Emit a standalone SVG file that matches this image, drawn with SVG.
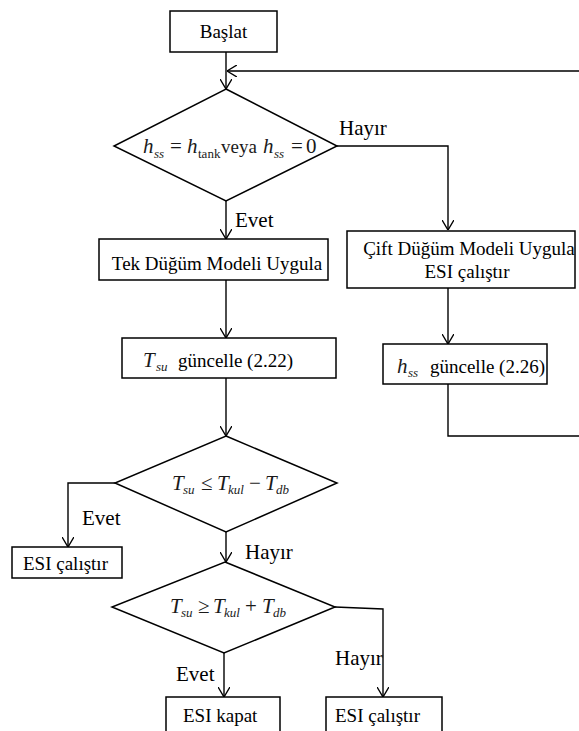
<svg xmlns="http://www.w3.org/2000/svg" width="579" height="731" viewBox="0 0 579 731" font-family="'Liberation Serif', 'Times New Roman', serif">
<defs>
<marker id="arr" viewBox="0 0 10 12" refX="10" refY="6" markerWidth="10" markerHeight="12" markerUnits="userSpaceOnUse" orient="auto">
<path d="M0,0 L10,6 L0,12" fill="none" stroke="#000" stroke-width="1.4"/>
</marker>
<style>
.box{fill:#fff;stroke:#000;stroke-width:1.5}
.dia{fill:#fff;stroke:#000;stroke-width:1.5}
.ln{fill:none;stroke:#000;stroke-width:1.4}
.t{font-size:19px;fill:#000}
.lbl{font-size:21px;fill:#000}
.m{font-size:21px;fill:#1a1a1a}
.i{font-style:italic}
.s{font-size:13px}
.v{font-size:19px}
</style>
</defs>
<rect width="579" height="731" fill="#fff"/>

<g id="connectors">
<line class="ln" x1="226" y1="52" x2="226" y2="89" marker-end="url(#arr)"/>
<path class="ln" d="M448,384 V436 H580 V71 H227" marker-end="url(#arr)"/>
<path class="ln" d="M337,146 H448 V230" marker-end="url(#arr)"/>
<line class="ln" x1="226" y1="201" x2="226" y2="239" marker-end="url(#arr)"/>
<line class="ln" x1="448" y1="288" x2="448" y2="344" marker-end="url(#arr)"/>
<line class="ln" x1="226" y1="280" x2="226" y2="338" marker-end="url(#arr)"/>
<line class="ln" x1="226" y1="378" x2="226" y2="436" marker-end="url(#arr)"/>
<path class="ln" d="M115,483 H68 V547" marker-end="url(#arr)"/>
<line class="ln" x1="226" y1="532" x2="226" y2="562" marker-end="url(#arr)"/>
<path class="ln" d="M335,607 L383,609 V697" marker-end="url(#arr)"/>
<line class="ln" x1="224" y1="653" x2="224" y2="697" marker-end="url(#arr)"/>
<text class="lbl" x="339" y="135">Hayır</text>
<text class="lbl" x="235" y="227">Evet</text>
<text class="lbl" x="82" y="525">Evet</text>
<text class="lbl" x="245" y="559">Hayır</text>
<text class="lbl" x="335" y="665">Hayır</text>
<text class="lbl" x="176" y="681">Evet</text>
</g>

<g id="baslat">
<rect class="box" x="170" y="11" width="107" height="41"/>
<text class="t" x="223.5" y="38" text-anchor="middle">Başlat</text>
</g>

<g id="karar1">
<polygon class="dia" points="226,89 337,146 226,201 114,146"/>
<text class="m"><tspan class="i" x="143" y="153">h</tspan><tspan class="i s" x="154" y="158">ss</tspan><tspan x="170" y="153">=</tspan><tspan class="i" x="187" y="153">h</tspan><tspan class="s" x="198" y="158">tank</tspan><tspan class="v" x="221" y="153">veya</tspan><tspan class="i" x="263" y="153">h</tspan><tspan class="i s" x="274" y="158">ss</tspan><tspan x="291" y="153">=</tspan><tspan x="306" y="153">0</tspan></text>
</g>

<g id="tek">
<rect class="box" x="99" y="239" width="229" height="41"/>
<text class="t" x="217" y="270" text-anchor="middle">Tek Düğüm Modeli Uygula</text>
</g>

<g id="cift">
<rect class="box" x="347" y="231" width="228" height="57"/>
<text class="t" x="469" y="255" text-anchor="middle">Çift Düğüm Modeli Uygula</text>
<text class="t" x="467" y="278" text-anchor="middle">ESI çalıştır</text>
</g>

<g id="tsu">
<rect class="box" x="122" y="338" width="214" height="40"/>
<text class="m"><tspan class="i" x="143" y="367">T</tspan><tspan class="i s" x="156" y="371">su</tspan></text>
<text class="t" x="178" y="367">güncelle (2.22)</text>
</g>

<g id="hss">
<rect class="box" x="383" y="344" width="164" height="40"/>
<text class="m"><tspan class="i" x="397" y="373">h</tspan><tspan class="i s" x="408" y="377">ss</tspan></text>
<text class="t" x="430" y="373">güncelle (2.26)</text>
</g>

<g id="karar2">
<polygon class="dia" points="226,436 337,483 226,532 115,483"/>
<text class="m"><tspan class="i" x="172" y="490">T</tspan><tspan class="i s" x="183" y="494">su</tspan><tspan x="201" y="490">≤</tspan><tspan class="i" x="217" y="490">T</tspan><tspan class="i s" x="228" y="494">kul</tspan><tspan x="249" y="490">−</tspan><tspan class="i" x="265" y="490">T</tspan><tspan class="i s" x="276" y="494">db</tspan></text>
</g>

<g id="esi1">
<rect class="box" x="12" y="547" width="110" height="31"/>
<text class="t" x="23" y="570">ESI çalıştır</text>
</g>

<g id="karar3">
<polygon class="dia" points="225,562 335,607 224,653 112,607"/>
<text class="m"><tspan class="i" x="170" y="613">T</tspan><tspan class="i s" x="181" y="617">su</tspan><tspan x="198" y="613">≥</tspan><tspan class="i" x="213" y="613">T</tspan><tspan class="i s" x="224" y="617">kul</tspan><tspan x="245" y="613">+</tspan><tspan class="i" x="262" y="613">T</tspan><tspan class="i s" x="273" y="617">db</tspan></text>
</g>

<g id="kapat">
<rect class="box" x="166" y="697" width="114" height="40"/>
<text class="t" x="183" y="722">ESI kapat</text>
</g>

<g id="esi2">
<rect class="box" x="326" y="697" width="116" height="40"/>
<text class="t" x="335" y="722">ESI çalıştır</text>
</g>
</svg>
